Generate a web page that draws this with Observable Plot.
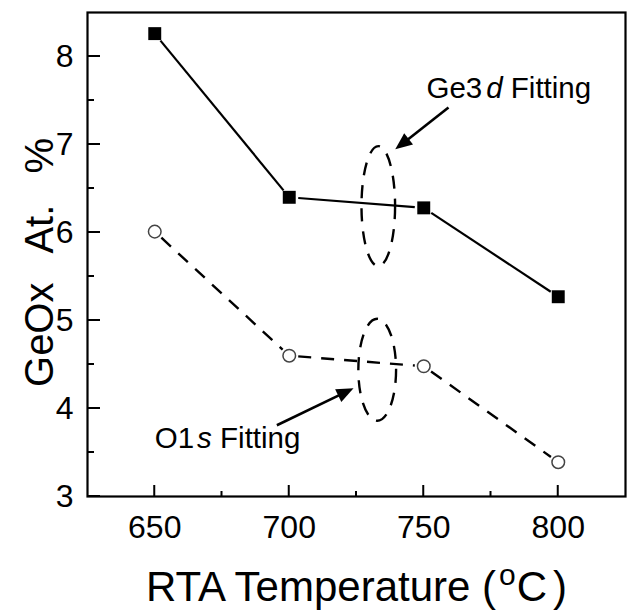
<!DOCTYPE html>
<html><head><meta charset="utf-8">
<script src="https://cdn.jsdelivr.net/npm/d3@7"></script>
<script src="https://cdn.jsdelivr.net/npm/@observablehq/plot@0.6"></script>
<style>body{margin:0;background:#fff}</style>
</head><body><div id="chart"></div>
<script>
// ---- data ----
const temps = [650, 700, 750, 800];
const ge3d = [8.26, 6.40, 6.28, 5.27];
const o1s = [6.01, 4.60, 4.48, 3.39];
const xTicks = [650, 700, 750, 800];
const xMinor = [675, 725, 775];
const yTicks = [3, 4, 5, 6, 7, 8];
const yMinor = [3.5, 4.5, 5.5, 6.5, 7.5];
const labelText = ["Ge3d Fitting", "O1s Fitting"];
const labelX = [751, 650];
const labelY = [7.64, 3.66];
const arrowX1 = [759.2, 695.4];
const arrowY1 = [7.42, 3.81];
const arrowX2 = [739.4, 723.9];
const arrowY2 = [6.945, 4.23];
const ellipseX = [733.1, 732.7];
const ellipseY = [6.30, 4.44];
const xTitle = "RTA Temperature (oC)";
const yTitle = "GeOx At. %";

// ---- layout ----
const W = 627, H = 610, mL = 87, mR = 2, mT = 12, mB = 114;
const innerW = W - mL - mR, innerH = H - mT - mB;
const xDomain = [625, 825], yDomain = [3, 8.5];
const kx = innerW / (xDomain[1] - xDomain[0]), ky = innerH / (yDomain[1] - yDomain[0]);

const pts = ys => temps.map((t, i) => ({t, v: ys[i]}));
const segs = ys => temps.slice(1).map((t, i) => ({x1: temps[i], y1: ys[i], x2: t, y2: ys[i + 1]}));
const labels = labelText.map((text, i) => ({text, x: labelX[i], y: labelY[i]}));
const arrows = arrowX1.map((x1, i) => {
  const dx = (arrowX2[i] - x1) * kx, dy = -(arrowY2[i] - arrowY1[i]) * ky;
  return {x1, y1: arrowY1[i], x2: arrowX2[i], y2: arrowY2[i], angle: Math.atan2(dx, -dy) * 180 / Math.PI};
});
const ellipses = ellipseX.map((x, i) => ({x, y: ellipseY[i]}));

function ellipseSymbol(aspect) {
  return {draw(context, size) {
    const ry = Math.sqrt(size / Math.PI), rx = ry * aspect, k = 0.5523;
    context.moveTo(rx, 0);
    context.bezierCurveTo(rx, k * ry, k * rx, ry, 0, ry);
    context.bezierCurveTo(-k * rx, ry, -rx, k * ry, -rx, 0);
    context.bezierCurveTo(-rx, -k * ry, -k * rx, -ry, 0, -ry);
    context.bezierCurveTo(k * rx, -ry, rx, -k * ry, rx, 0);
    context.closePath();
  }};
}
// arrowhead with its tip at the origin, pointing up
const headSymbol = {draw(context, size) {
  const L = Math.sqrt(size / Math.PI), w = L * 0.42;
  context.moveTo(0, 0);
  context.lineTo(w, L);
  context.lineTo(-w, L);
  context.closePath();
}};

const plot = Plot.plot({
  width: W, height: H,
  marginLeft: mL, marginRight: mR, marginTop: mT, marginBottom: mB,
  style: {fontFamily: "'Liberation Sans', Arial, sans-serif", background: "#fff", color: "#000"},
  x: {domain: xDomain},
  y: {domain: yDomain},
  marks: [
    Plot.frame({strokeWidth: 2.2, stroke: "#000", fill: "none"}),
    // tick labels
    Plot.axisX({ticks: xTicks, tickSize: 0, tickPadding: 19, fontSize: 32, label: null, tickFormat: d => String(d)}),
    Plot.axisY({ticks: yTicks, tickSize: 0, tickPadding: 14, fontSize: 32, label: null, tickFormat: d => String(d)}),
    // series lines (with small gaps at markers)
    Plot.arrow(segs(ge3d), {x1: "x1", y1: "y1", x2: "x2", y2: "y2", inset: 9, headLength: 0, strokeWidth: 2.2, stroke: "#000", strokeLinecap: "butt"}),
    Plot.arrow(segs(o1s), {x1: "x1", y1: "y1", x2: "x2", y2: "y2", inset: 9, headLength: 0, strokeWidth: 2.4, stroke: "#000", strokeDasharray: "13,10", strokeLinecap: "butt"}),
    Plot.dot(pts(ge3d), {x: "t", y: "v", symbol: "square", r: 7.3, fill: "#000", stroke: "none"}),
    Plot.dot(pts(o1s), {x: "t", y: "v", symbol: "circle", r: 6.3, fill: "#fff", stroke: "#444", strokeWidth: 1.5}),
    // annotation ellipses
    Plot.dot(ellipses.slice(0, 1), {x: "x", y: "y", symbol: ellipseSymbol(0.28), r: 60, fill: "none", stroke: "#000", strokeWidth: 2.4, strokeDasharray: "13,10"}),
    Plot.dot(ellipses.slice(1), {x: "x", y: "y", symbol: ellipseSymbol(0.37), r: 51, fill: "none", stroke: "#000", strokeWidth: 2.4, strokeDasharray: "13,10"}),
    // annotation arrows and labels
    Plot.arrow(arrows, {x1: "x1", y1: "y1", x2: "x2", y2: "y2", insetEnd: 10, strokeWidth: 2.6, headLength: 0, stroke: "#000", strokeLinecap: "butt"}),
    Plot.dot(arrows, {x: "x2", y: "y2", symbol: headSymbol, r: 17, rotate: "angle", fill: "#000", stroke: "none"}),
    Plot.text(labels, {x: "x", y: "y", text: "text", fontSize: 29.5, textAnchor: "start", lineAnchor: "middle", fill: "#000"}),
    // axis titles
    Plot.text([xTitle], {frameAnchor: "bottom", dy: 91, fontSize: 42, lineAnchor: "middle", textAnchor: "middle", fill: "#000"}),
    Plot.text([yTitle], {frameAnchor: "left", dx: -47, dy: 8, rotate: -90, fontSize: 40, lineAnchor: "middle", textAnchor: "middle", fill: "#000"})
  ]
});

// inward tick marks, placed through Plot's own scales
try {
  const sx = plot.scale("x"), sy = plot.scale("y");
  const x0 = sx.apply(xDomain[0]), y0 = sy.apply(yDomain[0]);
  let dPath = "";
  for (const v of xTicks) dPath += `M${sx.apply(v)},${y0}v-11`;
  for (const v of xMinor) dPath += `M${sx.apply(v)},${y0}v-5`;
  for (const v of yTicks) dPath += `M${x0},${sy.apply(v)}h13`;
  for (const v of yMinor) dPath += `M${x0},${sy.apply(v)}h7`;
  d3.select(plot).append("path")
    .attr("d", dPath)
    .attr("fill", "none")
    .attr("stroke", "#000")
    .attr("stroke-width", 2);
} catch (e) { console.error(e); }

const NS = "http://www.w3.org/2000/svg";
function rich(t, parts) {
  t.textContent = "";
  for (const [s, attrs] of parts) {
    const ts = document.createElementNS(NS, "tspan");
    ts.textContent = s;
    for (const k in (attrs || {})) ts.setAttribute(k, attrs[k]);
    t.appendChild(ts);
  }
}
for (const t of plot.querySelectorAll("text")) {
  const s = t.textContent;
  if (s === labelText[0]) rich(t, [["Ge3"], ["d", {"font-style": "italic", dx: 4}], [" Fitting"]]);
  else if (s === labelText[1]) rich(t, [["O1"], ["s", {"font-style": "italic", dx: 3}], [" Fitting"]]);
  else if (s === xTitle) rich(t, [["RTA Temperature ("], ["o", {dx: 3, dy: -16, "font-size": 30}], ["C", {dx: 1, dy: 16}], [")", {dx: 6}]]);
  else if (s === yTitle) t.style.wordSpacing = "20px";
}
document.getElementById("chart").appendChild(plot);
</script>
</body></html>
